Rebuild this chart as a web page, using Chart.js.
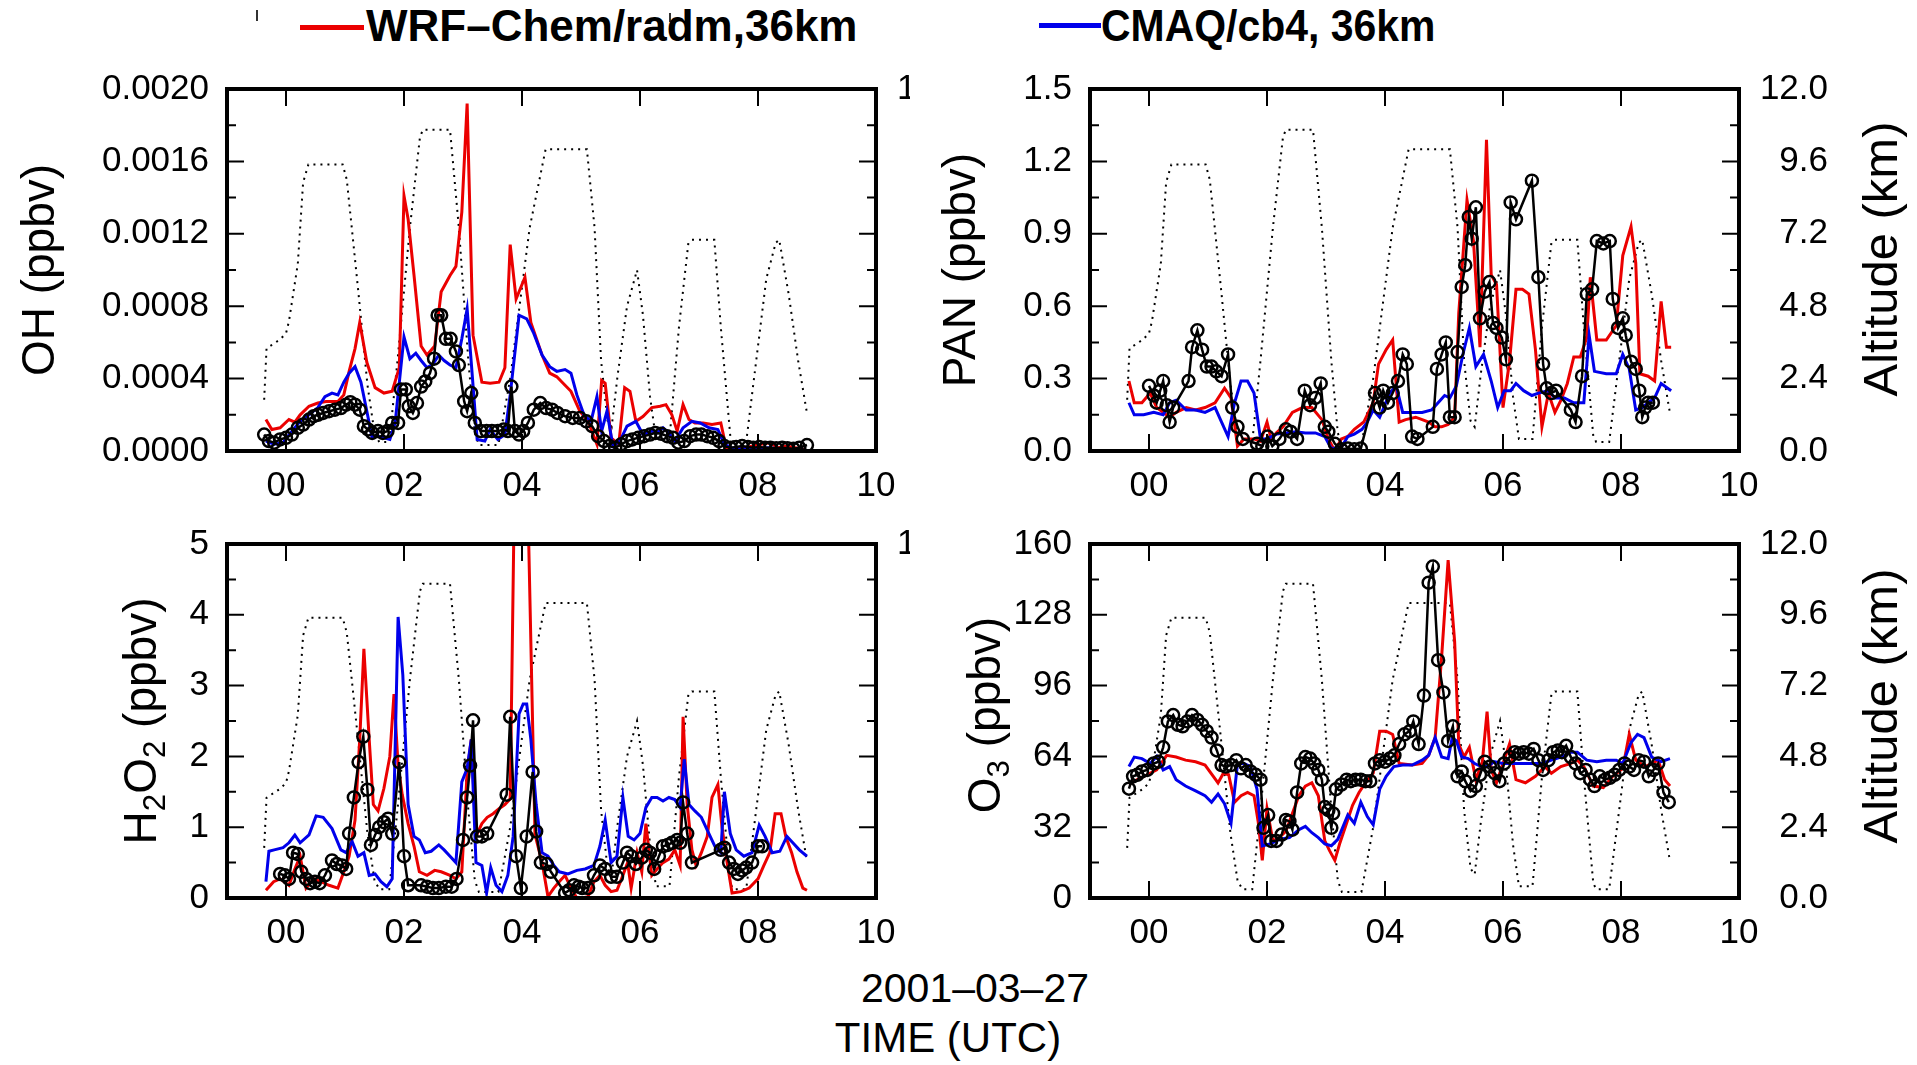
<!DOCTYPE html>
<html>
<head>
<meta charset="utf-8">
<title>WRF-Chem / CMAQ vs observations</title>
<script src="https://cdn.jsdelivr.net/npm/chart.js@4.4.0/dist/chart.umd.min.js"></script>
<style>
  html, body { margin: 0; padding: 0; background: #fff; }
  body { width: 1917px; height: 1065px; position: relative; overflow: hidden; font-family: "Liberation Sans", Arial, sans-serif; }
  canvas { position: absolute; }
  .cover { background: #fff; }
  .txt { position: absolute; white-space: nowrap; color: #000; line-height: 1; transform-origin: left top; }
  .key { position: absolute; height: 5px; }
  .mark { position: absolute; width: 2px; background: #333; }
</style>
</head>
<body>
<!-- petits traits parasites du haut de la figure -->
<div class="mark" style="left:256px;top:10px;height:11px"></div>
<div class="mark" style="left:669px;top:13px;height:9px"></div>
<div class="mark" style="left:773px;top:13px;height:9px"></div>

<!-- legende -->
<div class="key" style="left:300px;top:25px;width:64px;background:rgb(235,0,0)"></div>
<div class="txt" style="left:366px;top:4px;font-size:44px;font-weight:bold">WRF–Chem/radm,36km</div>
<div class="key" style="left:1039px;top:23px;width:62px;background:rgb(0,0,235)"></div>
<div class="txt" style="left:1101px;top:4px;font-size:44px;font-weight:bold;transform:scaleX(0.93)">CMAQ/cb4, 36km</div>

<canvas id="cOH" width="970" height="455" style="left:0;top:50px"></canvas>
<canvas id="cPAN" class="cover" width="1007" height="455" style="left:910px;top:50px"></canvas>
<canvas id="cH2O2" width="970" height="455" style="left:0;top:505px"></canvas>
<canvas id="cO3" class="cover" width="1007" height="455" style="left:910px;top:505px"></canvas>

<div class="txt" style="left:675px;top:968px;width:600px;text-align:center;font-size:41px">2001–03–27</div>
<div class="txt" style="left:648px;top:1017px;width:600px;text-align:center;font-size:42px">TIME (UTC)</div>

<script>
// Axes communs
const hourTicks = [0, 2, 4, 6, 8, 10];
const hourLabels = ['00', '02', '04', '06', '08', '10'];
const altTicks = [0, 2.4, 4.8, 7.2, 9.6, 12];
const altLabels = ['0.0', '2.4', '4.8', '7.2', '9.6', '12.0'];

const ohTicks = [0, 0.0004, 0.0008, 0.0012, 0.0016, 0.0020];
const ohLabels = ['0.0000', '0.0004', '0.0008', '0.0012', '0.0016', '0.0020'];
const panTicks = [0, 0.3, 0.6, 0.9, 1.2, 1.5];
const panLabels = ['0.0', '0.3', '0.6', '0.9', '1.2', '1.5'];
const h2o2Ticks = [0, 1, 2, 3, 4, 5];
const h2o2Labels = ['0', '1', '2', '3', '4', '5'];
const o3Ticks = [0, 32, 64, 96, 128, 160];
const o3Labels = ['0', '32', '64', '96', '128', '160'];

// Altitude de l'avion (km), [heure UTC, km]
const altData = [[-0.37,1.7],[-0.33,3.4],[-0.1,3.7],[0,3.9],[0.05,4.3],[0.2,6.2],[0.29,8.9],[0.38,9.5],[0.96,9.5],[1.03,9.0],[1.12,7.3],[1.23,5.2],[1.38,2.2],[1.5,0.6],[1.58,0.3],[1.75,0.3],[1.89,3.0],[2.1,7.4],[2.27,10.4],[2.32,10.65],[2.78,10.65],[2.93,7.4],[3.09,3.0],[3.2,0.6],[3.27,0.2],[3.6,0.2],[3.8,2.4],[4.13,7.4],[4.4,10.0],[5.1,10.0],[5.23,7.4],[5.34,3.0],[5.45,1.0],[5.52,0.8],[5.62,2.5],[5.78,4.8],[5.95,6.0],[6.05,4.5],[6.17,1.8],[6.27,0.4],[6.5,0.4],[6.66,4.1],[6.82,6.9],[6.88,7.0],[7.26,7.0],[7.37,4.1],[7.53,0.5],[7.58,0.3],[7.8,0.3],[7.97,3.0],[8.14,5.7],[8.3,6.9],[8.36,7.0],[8.52,5.2],[8.68,3.0],[8.83,1.25]];

// OH (ppbv)
const ohObs = [[-0.37,0.000091],[-0.29,0.000055],[-0.2,0.000046],[-0.1,0.000064],[0,0.000073],[0.1,0.000091],[0.2,0.000128],[0.29,0.000146],[0.39,0.000174],[0.47,0.000192],[0.54,0.0002],[0.63,0.00021],[0.73,0.00022],[0.83,0.000228],[0.93,0.000237],[1.02,0.000256],[1.09,0.00027],[1.17,0.000256],[1.25,0.000228],[1.32,0.000137],[1.39,0.000119],[1.46,0.0001],[1.56,0.00011],[1.64,0.0001],[1.72,0.00011],[1.8,0.000155],[1.9,0.000155],[1.95,0.00034],[2.03,0.00034],[2.08,0.000247],[2.15,0.00021],[2.22,0.000265],[2.29,0.000356],[2.36,0.000384],[2.44,0.00043],[2.51,0.00051],[2.57,0.00075],[2.63,0.00075],[2.71,0.00062],[2.79,0.00062],[2.88,0.00055],[2.93,0.000475],[3.02,0.000274],[3.07,0.00022],[3.14,0.00032],[3.2,0.000155],[3.3,0.00011],[3.4,0.00011],[3.49,0.00011],[3.59,0.00011],[3.69,0.000119],[3.76,0.00011],[3.82,0.000356],[3.88,0.00011],[3.95,0.000091],[4.02,0.00011],[4.1,0.000155],[4.2,0.000228],[4.31,0.000265],[4.41,0.000237],[4.51,0.000228],[4.6,0.00021],[4.73,0.000192],[4.86,0.000183],[4.98,0.000183],[5.09,0.000164],[5.19,0.000137],[5.29,0.000082],[5.39,0.000055],[5.48,0.000027],[5.58,0.000018],[5.68,0.000037],[5.78,0.000055],[5.87,0.000064],[5.97,0.000073],[6.07,0.000082],[6.17,0.000091],[6.26,0.0001],[6.36,0.000095],[6.46,0.000082],[6.56,0.000073],[6.65,0.000046],[6.75,0.000055],[6.85,0.000082],[6.95,0.000091],[7.04,0.000091],[7.14,0.000082],[7.24,0.000073],[7.34,0.000055],[7.43,0.000027],[7.53,0.000018],[7.63,0.000022],[7.73,0.000027],[7.83,0.000022],[7.92,0.000018],[8.02,0.000022],[8.12,0.000018],[8.21,0.000018],[8.31,0.000015],[8.41,0.000018],[8.5,0.000015],[8.6,0.000013],[8.7,0.000018],[8.83,0.000033]];
const ohWrf = [[-0.34,0.000174],[-0.24,0.000119],[-0.1,0.000128],[0.05,0.000174],[0.15,0.00016],[0.24,0.0002],[0.39,0.000247],[0.54,0.000265],[0.68,0.000274],[0.88,0.000274],[0.98,0.00031],[1.07,0.00044],[1.17,0.000566],[1.25,0.00071],[1.37,0.00049],[1.51,0.00035],[1.66,0.00032],[1.8,0.00033],[1.92,0.00046],[2.0,0.00141],[2.07,0.00128],[2.17,0.00097],[2.29,0.00058],[2.39,0.00053],[2.52,0.00058],[2.63,0.00088],[2.78,0.00097],[2.88,0.00102],[2.98,0.00132],[3.07,0.00192],[3.17,0.00064],[3.32,0.00038],[3.46,0.000374],[3.61,0.00038],[3.71,0.00046],[3.8,0.00114],[3.9,0.00084],[4.05,0.00096],[4.15,0.00071],[4.34,0.00053],[4.47,0.00043],[4.59,0.00041],[4.68,0.00038],[4.83,0.00033],[4.98,0.00022],[5.12,0.000164],[5.27,0.000037],[5.35,0.00039],[5.41,0.000374],[5.51,0.000073],[5.64,0.000037],[5.74,0.00035],[5.83,0.00033],[5.93,0.000164],[6.05,0.00019],[6.2,0.00024],[6.34,0.000247],[6.44,0.000256],[6.54,0.0002],[6.63,0.00011],[6.73,0.000256],[6.83,0.000174],[6.93,0.000155],[7.07,0.000155],[7.22,0.000146],[7.37,0.000155],[7.46,0.000018],[7.61,0.000009],[7.76,0.000018],[7.9,0.000027],[8.05,0.000037],[8.2,0.000046],[8.34,0.000018],[8.49,0.000027],[8.63,0.000018],[8.78,0.000009]];
const ohCmaq = [[-0.34,0.000055],[-0.2,0.000037],[-0.05,0.000046],[0.1,0.00011],[0.24,0.000164],[0.39,0.0002],[0.54,0.00024],[0.66,0.0003],[0.78,0.00032],[0.88,0.00031],[0.98,0.00038],[1.07,0.00043],[1.17,0.000466],[1.27,0.00038],[1.37,0.00022],[1.46,0.000073],[1.56,0.000082],[1.66,0.000073],[1.76,0.000064],[1.85,0.000155],[2.0,0.00063],[2.1,0.00051],[2.2,0.00054],[2.29,0.0005],[2.39,0.00046],[2.49,0.00048],[2.59,0.00053],[2.68,0.0005],[2.78,0.000475],[2.88,0.00046],[2.98,0.00062],[3.07,0.000785],[3.14,0.00049],[3.24,0.000064],[3.37,0.000055],[3.46,0.000119],[3.59,0.000064],[3.71,0.000091],[3.8,0.00031],[3.95,0.00075],[4.08,0.00073],[4.2,0.00065],[4.34,0.00053],[4.47,0.000466],[4.59,0.00044],[4.73,0.00045],[4.83,0.00043],[4.93,0.00031],[5.05,0.0002],[5.17,0.000164],[5.27,0.0003],[5.35,0.00011],[5.44,0.00022],[5.54,0.000027],[5.66,0.000055],[5.78,0.000137],[5.93,0.000164],[6.05,0.000091],[6.2,0.00011],[6.29,0.0001],[6.39,0.000128],[6.49,0.0001],[6.59,0.000055],[6.73,0.000128],[6.88,0.000164],[7.02,0.000155],[7.17,0.000128],[7.32,0.000119],[7.43,0.000037],[7.61,0.000009],[7.8,0.000013],[7.95,0.000015],[8.2,0.000018],[8.39,0.000009],[8.59,0.000005],[8.78,0.000004]];

// PAN (ppbv)
const panObs = [[0,0.27],[0.08,0.23],[0.13,0.2],[0.19,0.25],[0.24,0.29],[0.3,0.19],[0.35,0.12],[0.41,0.18],[0.67,0.29],[0.73,0.43],[0.82,0.5],[0.9,0.42],[0.98,0.35],[1.06,0.35],[1.14,0.33],[1.23,0.31],[1.34,0.4],[1.41,0.18],[1.5,0.1],[1.59,0.05],[1.83,0.03],[1.92,0.02],[2.01,0.06],[2.09,0.02],[2.21,0.05],[2.32,0.09],[2.4,0.08],[2.51,0.05],[2.64,0.25],[2.73,0.19],[2.82,0.22],[2.91,0.28],[2.98,0.1],[3.04,0.08],[3.15,0.03],[3.26,0.007],[3.37,0.01],[3.48,0.007],[3.59,0.01],[3.83,0.24],[3.91,0.18],[3.97,0.25],[4.05,0.2],[4.13,0.24],[4.22,0.29],[4.3,0.4],[4.37,0.36],[4.46,0.06],[4.55,0.05],[4.81,0.1],[4.88,0.34],[4.96,0.4],[5.03,0.45],[5.1,0.14],[5.18,0.14],[5.23,0.41],[5.3,0.68],[5.36,0.77],[5.42,0.97],[5.47,0.88],[5.54,1.01],[5.61,0.55],[5.69,0.66],[5.77,0.7],[5.83,0.53],[5.89,0.51],[5.98,0.47],[6.05,0.38],[6.13,1.03],[6.22,0.96],[6.49,1.12],[6.6,0.72],[6.68,0.36],[6.74,0.26],[6.82,0.24],[6.9,0.25],[7.15,0.17],[7.23,0.12],[7.34,0.31],[7.42,0.65],[7.51,0.67],[7.59,0.87],[7.7,0.86],[7.81,0.87],[7.86,0.63],[7.95,0.51],[8.03,0.55],[8.08,0.48],[8.17,0.37],[8.25,0.34],[8.31,0.25],[8.36,0.14],[8.41,0.18],[8.46,0.2],[8.54,0.2]];
const panWrf = [[-0.34,0.29],[-0.25,0.2],[-0.12,0.2],[0.02,0.24],[0.13,0.18],[0.24,0.16],[0.35,0.14],[0.46,0.16],[0.63,0.18],[0.79,0.17],[0.95,0.18],[1.12,0.2],[1.28,0.26],[1.39,0.22],[1.5,0.02],[1.61,0.05],[1.78,0.05],[1.89,0.04],[2.0,0.12],[2.07,0.05],[2.16,0.075],[2.27,0.1],[2.43,0.16],[2.6,0.18],[2.76,0.18],[2.93,0.13],[3.04,0.05],[3.15,0],[3.26,0.05],[3.37,0.06],[3.48,0.09],[3.64,0.12],[3.8,0.2],[3.89,0.36],[4.02,0.42],[4.13,0.46],[4.24,0.12],[4.35,0.13],[4.52,0.14],[4.63,0.13],[4.74,0.12],[4.85,0.1],[4.96,0.1],[5.07,0.11],[5.18,0.14],[5.25,0.57],[5.39,1.04],[5.5,0.87],[5.61,0.43],[5.72,1.29],[5.8,0.73],[5.89,0.69],[6.0,0.18],[6.11,0.37],[6.22,0.67],[6.33,0.67],[6.44,0.65],[6.55,0.42],[6.66,0.1],[6.77,0.24],[6.88,0.16],[6.98,0.21],[7.09,0.28],[7.2,0.39],[7.31,0.39],[7.42,0.47],[7.48,0.72],[7.59,0.46],[7.75,0.46],[7.92,0.52],[8.03,0.81],[8.17,0.93],[8.25,0.78],[8.32,0.32],[8.46,0.31],[8.57,0.29],[8.68,0.62],[8.77,0.43],[8.85,0.43]];
const panCmaq = [[-0.34,0.2],[-0.25,0.15],[-0.09,0.15],[0.08,0.16],[0.24,0.15],[0.35,0.2],[0.46,0.21],[0.63,0.17],[0.79,0.17],[0.95,0.16],[1.12,0.18],[1.23,0.12],[1.34,0.06],[1.45,0.2],[1.56,0.29],[1.67,0.29],[1.78,0.24],[1.89,0.05],[2.0,0.05],[2.16,0.07],[2.32,0.075],[2.49,0.08],[2.65,0.075],[2.82,0.075],[2.98,0.06],[3.09,0.01],[3.26,0.015],[3.37,0.06],[3.48,0.07],[3.61,0.09],[3.7,0.12],[3.8,0.17],[3.91,0.14],[4.08,0.24],[4.19,0.27],[4.3,0.16],[4.46,0.16],[4.63,0.16],[4.79,0.17],[4.9,0.2],[5.01,0.23],[5.1,0.22],[5.21,0.27],[5.32,0.4],[5.43,0.51],[5.54,0.35],[5.67,0.4],[5.8,0.29],[5.91,0.18],[6.02,0.25],[6.13,0.25],[6.22,0.28],[6.35,0.25],[6.49,0.23],[6.6,0.24],[6.77,0.25],[6.88,0.22],[7.04,0.22],[7.2,0.2],[7.37,0.2],[7.46,0.48],[7.55,0.33],[7.75,0.32],[7.92,0.32],[8.03,0.4],[8.14,0.34],[8.25,0.17],[8.36,0.18],[8.46,0.2],[8.57,0.22],[8.68,0.28],[8.85,0.25]];

// H2O2 (ppbv)
const h2o2Obs = [[-0.1,0.34],[-0.02,0.32],[0.05,0.27],[0.12,0.64],[0.2,0.62],[0.26,0.37],[0.34,0.27],[0.41,0.21],[0.49,0.23],[0.57,0.21],[0.66,0.32],[0.78,0.53],[0.86,0.48],[0.95,0.46],[1.02,0.41],[1.07,0.91],[1.15,1.42],[1.23,1.92],[1.31,2.28],[1.38,1.53],[1.44,0.75],[1.51,0.89],[1.58,1.0],[1.66,1.07],[1.73,1.12],[1.8,0.91],[1.92,1.92],[2.0,0.59],[2.07,0.18],[2.29,0.18],[2.39,0.16],[2.49,0.14],[2.59,0.14],[2.71,0.16],[2.81,0.16],[2.89,0.27],[3.0,0.82],[3.07,1.42],[3.12,1.87],[3.17,2.51],[3.24,0.87],[3.32,0.87],[3.41,0.91],[3.74,1.46],[3.8,2.56],[3.9,0.59],[3.98,0.14],[4.08,0.87],[4.18,1.78],[4.24,0.94],[4.32,0.5],[4.42,0.48],[4.49,0.37],[4.73,0.07],[4.8,0.11],[4.88,0.18],[4.96,0.16],[5.02,0.14],[5.12,0.14],[5.22,0.32],[5.32,0.46],[5.41,0.41],[5.51,0.3],[5.61,0.3],[5.71,0.5],[5.78,0.64],[5.85,0.59],[5.93,0.48],[6.03,0.57],[6.1,0.68],[6.17,0.64],[6.24,0.41],[6.32,0.59],[6.39,0.73],[6.47,0.75],[6.54,0.78],[6.63,0.82],[6.68,0.78],[6.73,1.35],[6.8,0.91],[6.88,0.5],[7.37,0.68],[7.43,0.71],[7.51,0.5],[7.59,0.41],[7.66,0.34],[7.73,0.39],[7.8,0.43],[7.9,0.5],[8.0,0.73],[8.07,0.73]];
const h2o2Wrf = [[-0.34,0.11],[-0.21,0.23],[-0.1,0.27],[0.05,0.18],[0.15,0.41],[0.24,0.59],[0.34,0.14],[0.47,0.27],[0.59,0.23],[0.73,0.18],[0.88,0.14],[0.98,0.37],[1.07,0.59],[1.17,1.1],[1.25,2.24],[1.32,3.52],[1.41,2.24],[1.48,1.32],[1.56,1.23],[1.66,1.55],[1.76,2.0],[1.83,2.88],[1.9,1.87],[1.97,1.46],[2.07,1.05],[2.17,0.73],[2.26,0.37],[2.39,0.32],[2.52,0.39],[2.63,0.37],[2.78,0.32],[2.88,0.27],[2.98,0.37],[3.07,1.78],[3.14,2.24],[3.22,0.87],[3.32,1.05],[3.41,1.14],[3.51,1.19],[3.61,1.26],[3.71,1.32],[3.8,1.4],[3.9,7.5],[4.05,7.5],[4.22,0.9],[4.34,0.5],[4.44,0.02],[4.54,0.14],[4.63,0.23],[4.73,0.32],[4.83,0.14],[4.93,0],[5.02,0],[5.12,0.02],[5.22,0.23],[5.32,0.32],[5.41,0.18],[5.51,0.09],[5.61,0.11],[5.71,0.32],[5.79,0.5],[5.85,0.14],[5.95,0.64],[6.03,0.37],[6.1,1.05],[6.2,0.32],[6.29,0.41],[6.39,0.5],[6.49,0.55],[6.59,0.68],[6.68,0.46],[6.73,2.56],[6.8,1.32],[6.88,0.68],[6.95,0.46],[7.04,0.64],[7.14,0.87],[7.22,1.42],[7.32,1.6],[7.39,1.0],[7.46,0.59],[7.56,0.07],[7.71,0.09],[7.85,0.14],[8.0,0.27],[8.1,0.46],[8.2,0.64],[8.29,1.19],[8.39,1.19],[8.47,0.87],[8.57,0.64],[8.66,0.37],[8.76,0.14],[8.83,0.11]];
const h2o2Cmaq = [[-0.34,0.23],[-0.29,0.66],[-0.2,0.68],[-0.05,0.71],[0.05,0.78],[0.15,0.89],[0.24,0.78],[0.39,0.89],[0.51,1.16],[0.63,1.14],[0.78,0.98],[0.93,0.68],[1.02,0.64],[1.12,0.8],[1.22,0.59],[1.32,0.64],[1.41,0.32],[1.51,0.34],[1.61,0.23],[1.71,0.16],[1.8,0.27],[1.9,3.97],[1.98,3.15],[2.07,1.32],[2.17,0.87],[2.26,0.82],[2.36,0.64],[2.46,0.66],[2.59,0.75],[2.68,0.68],[2.78,0.59],[2.88,0.5],[2.98,1.64],[3.07,1.83],[3.14,2.24],[3.22,0.5],[3.32,0.46],[3.4,0.07],[3.47,0.43],[3.56,0.18],[3.66,0.09],[3.76,0.32],[3.85,0.87],[3.95,2.6],[4.02,2.74],[4.08,2.74],[4.15,2.24],[4.24,1.32],[4.34,0.64],[4.44,0.59],[4.54,0.46],[4.63,0.37],[4.78,0.34],[4.93,0.39],[5.07,0.41],[5.22,0.46],[5.32,0.73],[5.41,1.1],[5.51,0.5],[5.61,0.59],[5.71,1.42],[5.8,0.87],[5.9,0.82],[6.0,0.91],[6.1,1.28],[6.2,1.42],[6.29,1.42],[6.39,1.37],[6.49,1.42],[6.59,1.39],[6.68,1.28],[6.75,1.96],[6.83,1.32],[6.93,1.23],[7.04,1.14],[7.14,0.96],[7.27,0.73],[7.37,0.64],[7.43,1.5],[7.53,0.91],[7.63,0.68],[7.76,0.59],[7.9,0.64],[8.02,1.03],[8.12,0.87],[8.24,0.64],[8.37,0.66],[8.49,0.87],[8.59,0.78],[8.7,0.68],[8.83,0.59]];

// O3 (ppbv)
const o3Obs = [[-0.34,49.4],[-0.27,55],[-0.2,55.7],[-0.12,57.2],[-0.03,57.9],[0.08,60.8],[0.16,61.6],[0.24,68.1],[0.32,79.8],[0.41,82.7],[0.49,78.3],[0.57,77.6],[0.65,79.8],[0.73,82.7],[0.82,80.5],[0.9,78.3],[0.98,75.4],[1.06,72.5],[1.15,66.7],[1.23,60.1],[1.3,59.4],[1.39,60.1],[1.48,62.3],[1.56,58.6],[1.64,60.1],[1.72,57.2],[1.81,55.7],[1.89,53.5],[1.94,31.7],[2.02,37.5],[2.07,25.8],[2.16,25.8],[2.25,28.7],[2.32,35.3],[2.38,34.6],[2.43,30.9],[2.51,47.7],[2.58,60.8],[2.65,63.7],[2.73,63],[2.8,60.8],[2.87,57.9],[2.93,53.5],[2.98,41.1],[3.04,39.7],[3.09,31.7],[3.12,38.2],[3.17,49.2],[3.26,51.3],[3.35,53.5],[3.42,52.8],[3.5,53.5],[3.59,53.5],[3.67,52.8],[3.75,52.8],[3.83,60.8],[3.91,62.3],[4.0,61.6],[4.08,63],[4.16,64.5],[4.24,69.6],[4.33,74],[4.42,75.4],[4.48,79.8],[4.57,69.6],[4.66,91.5],[4.74,142.5],[4.81,149.8],[4.9,107.5],[4.99,92.9],[5.07,71],[5.15,77.6],[5.23,55],[5.3,57.2],[5.36,52.8],[5.45,48.4],[5.54,50.6],[5.61,55.7],[5.69,61.6],[5.78,59.4],[5.86,56.4],[5.94,52.8],[6.02,60.8],[6.11,63.7],[6.2,65.9],[6.27,65.2],[6.35,65.9],[6.44,65.2],[6.52,67.4],[6.6,62.3],[6.68,57.9],[6.77,62.3],[6.85,65.9],[6.93,66.7],[7.0,65.9],[7.07,68.8],[7.15,63.7],[7.23,60.8],[7.31,56.4],[7.4,57.9],[7.48,53.5],[7.55,50.6],[7.64,55],[7.73,53.5],[7.81,54.3],[7.89,55.7],[7.97,57.9],[8.06,60.8],[8.14,59.4],[8.22,57.9],[8.3,62.3],[8.39,61.6],[8.47,55],[8.55,57.9],[8.63,60.8],[8.72,47.7],[8.81,43.3]];
const o3Wrf = [[-0.34,51.3],[-0.2,53.5],[-0.03,55.7],[0.13,57.9],[0.3,64.5],[0.46,63.7],[0.62,62.3],[0.79,61.6],[0.95,60.1],[1.09,55],[1.17,52],[1.26,56.4],[1.35,55.7],[1.45,43.3],[1.56,46.2],[1.67,47.7],[1.78,46.2],[1.85,34.6],[1.92,17],[2.0,40.4],[2.1,25.8],[2.21,27.3],[2.32,30.2],[2.43,38.2],[2.54,46.2],[2.65,50.6],[2.76,52.1],[2.87,46.2],[2.98,25.8],[3.06,21.4],[3.15,17],[3.23,24.4],[3.34,33.1],[3.45,41.9],[3.56,47.7],[3.67,52.1],[3.8,56.4],[3.91,75.4],[4.02,75.4],[4.13,73.9],[4.24,60.8],[4.46,60.1],[4.63,60.8],[4.74,64.5],[4.85,72.5],[4.96,109],[5.07,152.7],[5.18,116],[5.25,69.6],[5.34,63.7],[5.43,68.1],[5.54,53.5],[5.65,61.6],[5.73,84.2],[5.8,57.9],[5.89,52.1],[6.0,60.8],[6.11,69.6],[6.22,53.5],[6.38,52.1],[6.55,55],[6.71,59.4],[6.82,56.4],[6.98,59.4],[7.15,60.8],[7.26,62.3],[7.37,59.4],[7.53,50.6],[7.7,49.9],[7.86,55],[8.03,58.6],[8.14,74],[8.25,62.3],[8.41,59.4],[8.52,60.8],[8.63,62.3],[8.74,53.5],[8.83,50.6]];
const o3Cmaq = [[-0.34,59.4],[-0.25,63.7],[-0.12,63],[0.02,60.8],[0.13,64],[0.24,57.9],[0.35,59.4],[0.46,53.5],[0.62,50.6],[0.79,48.4],[0.95,46.2],[1.06,43.3],[1.17,47],[1.28,42.6],[1.39,33.8],[1.5,60.8],[1.61,60.8],[1.72,59.4],[1.83,49.2],[1.92,23.6],[2.05,24.4],[2.21,26.5],[2.38,27.3],[2.54,30.9],[2.65,32.4],[2.76,29.5],[2.87,27.3],[2.98,24.4],[3.09,23.6],[3.2,26.5],[3.37,37.5],[3.48,33.8],[3.59,43.3],[3.7,36.8],[3.8,33.1],[3.91,49.2],[4.02,55],[4.15,59.4],[4.3,60.1],[4.46,60.1],[4.63,62.3],[4.74,64.5],[4.85,72.5],[4.96,63.7],[5.07,63],[5.14,72.5],[5.21,71],[5.3,63.7],[5.41,63],[5.52,60.8],[5.63,59.4],[5.74,59.4],[5.85,61.6],[6.0,60.8],[6.17,60.8],[6.33,60.8],[6.49,60.8],[6.66,60.8],[6.82,62.3],[6.98,63.7],[7.15,65.9],[7.26,65.9],[7.42,62.3],[7.59,61.6],[7.75,62.3],[7.92,62.3],[8.03,60.8],[8.17,70.3],[8.28,74],[8.39,72.5],[8.52,63.7],[8.68,61.6],[8.83,63]];

const RED = 'rgb(235,0,0)';
const BLUE = 'rgb(0,0,235)';
const FONT = '"Liberation Sans", Arial, sans-serif';

// Titres d'axes verticaux (x = ligne de base, dans le canvas)
const TITLES = {
  cOH:   { left: { x: 54,  dy: 0,   size: 46, parts: [['OH (ppbv)']] } },
  cPAN:  { left: { x: 65,  dy: 0,   size: 46, parts: [['PAN (ppbv)']] },
           right: { x: 987, dy: -11, size: 49, parts: [['Altitude (km)']] } },
  cH2O2: { left: { x: 156, dy: 0,   size: 46, parts: [['H'], ['2', 1], ['O'], ['2', 1], [' (ppbv)']] } },
  cO3:   { left: { x: 90,  dy: -6,  size: 46, parts: [['O'], ['3', 1], [' (ppbv)']] },
           right: { x: 987, dy: -15, size: 49, parts: [['Altitude (km)']] } }
};

function toXY(arr) {
  return arr.map(p => ({ x: p[0], y: p[1] }));
}

function drawVertical(ctx, bx, cy, parts, size) {
  ctx.save();
  ctx.translate(bx, cy);
  ctx.rotate(-Math.PI / 2);
  ctx.fillStyle = '#000';
  ctx.textBaseline = 'alphabetic';
  let total = 0;
  parts.forEach(p => {
    ctx.font = (p[1] ? size * 0.68 : size) + 'px ' + FONT;
    total += ctx.measureText(p[0]).width;
  });
  let x = -total / 2;
  parts.forEach(p => {
    const fs = p[1] ? size * 0.68 : size;
    ctx.font = fs + 'px ' + FONT;
    ctx.fillText(p[0], x, p[1] ? size * 0.2 : 0);
    x += ctx.measureText(p[0]).width;
  });
  ctx.restore();
}

// Cadre, graduations internes et titres
const framePlugin = {
  id: 'frame',
  afterDatasetsDraw(chart) {
    const { ctx, chartArea: a, scales } = chart;
    ctx.save();
    ctx.strokeStyle = '#000';
    ctx.lineWidth = 2;
    ctx.beginPath();
    // graduations verticales (gauche et droite)
    const sideTicks = (scale, x0, dir) => {
      const vals = scale.ticks.map(t => t.value);
      vals.forEach((v, i) => {
        const py = scale.getPixelForValue(v);
        ctx.moveTo(x0, py); ctx.lineTo(x0 + dir * 17, py);
        if (i < vals.length - 1) {
          const pm = scale.getPixelForValue((v + vals[i + 1]) / 2);
          ctx.moveTo(x0, pm); ctx.lineTo(x0 + dir * 9, pm);
        }
      });
    };
    sideTicks(scales.y, a.left, 1);
    sideTicks(scales.y2, a.right, -1);
    // graduations horaires (haut et bas)
    scales.x.ticks.forEach(t => {
      if (t.value <= scales.x.min || t.value >= scales.x.max) return;
      const px = scales.x.getPixelForValue(t.value);
      ctx.moveTo(px, a.bottom); ctx.lineTo(px, a.bottom - 17);
      ctx.moveTo(px, a.top); ctx.lineTo(px, a.top + 17);
    });
    ctx.stroke();
    ctx.lineWidth = 4;
    ctx.strokeRect(a.left, a.top, a.right - a.left, a.bottom - a.top);
    ctx.restore();

    const t = TITLES[chart.canvas.id];
    const cy = (a.top + a.bottom) / 2;
    if (t.left) drawVertical(ctx, t.left.x, cy + t.left.dy, t.left.parts, t.left.size);
    if (t.right) drawVertical(ctx, t.right.x, cy + t.right.dy, t.right.parts, t.right.size);
  }
};

function makeChart(id, c) {
  const tickFont = { family: FONT, size: 35 };
  return new Chart(document.getElementById(id), {
    type: 'line',
    data: {
      datasets: [
        { label: 'Observation', data: toXY(c.obs), yAxisID: 'y', borderColor: '#000', borderWidth: 2.5,
          pointRadius: 6, pointBorderWidth: 2.5, pointBorderColor: '#000', pointBackgroundColor: 'rgba(0,0,0,0)' },
        { label: 'CMAQ/cb4, 36km', data: toXY(c.cmaq), yAxisID: 'y', borderColor: BLUE, borderWidth: 3, pointRadius: 0 },
        { label: 'WRF–Chem/radm,36km', data: toXY(c.wrf), yAxisID: 'y', borderColor: RED, borderWidth: 3, pointRadius: 0 },
        { label: 'Altitude', data: toXY(altData), yAxisID: 'y2', borderColor: '#000', borderWidth: 2,
          borderDash: [2, 5], pointRadius: 0 }
      ]
    },
    options: {
      responsive: false,
      animation: false,
      devicePixelRatio: 1,
      layout: { padding: { left: 0, right: c.padRight, top: c.padTop, bottom: 0 } },
      plugins: { legend: { display: false }, tooltip: { enabled: false } },
      scales: {
        x: {
          type: 'linear', min: -1, max: 10,
          afterBuildTicks: s => { s.ticks = hourTicks.map(v => ({ value: v })); },
          afterFit: s => { s.height = c.xHeight; },
          ticks: { callback: (v, i) => hourLabels[i], font: tickFont, color: '#000', padding: 14, maxRotation: 0, autoSkip: false },
          grid: { display: false, drawTicks: false },
          border: { display: false }
        },
        y: {
          position: 'left', min: c.yTicks[0], max: c.yTicks[c.yTicks.length - 1],
          afterBuildTicks: s => { s.ticks = c.yTicks.map(v => ({ value: v })); },
          afterFit: s => { s.width = c.yWidth; },
          ticks: { callback: (v, i) => c.yLabels[i], font: tickFont, color: '#000', padding: 18, autoSkip: false },
          grid: { display: false, drawTicks: false },
          border: { display: false }
        },
        y2: {
          position: 'right', min: 0, max: 12,
          afterBuildTicks: s => { s.ticks = altTicks.map(v => ({ value: v })); },
          afterFit: s => { s.width = 89; },
          ticks: { callback: (v, i) => altLabels[i], font: tickFont, color: '#000', crossAlign: 'far', autoSkip: false },
          grid: { display: false, drawTicks: false },
          border: { display: false }
        }
      }
    },
    plugins: [framePlugin]
  });
}

makeChart('cOH',   { obs: ohObs,   wrf: ohWrf,   cmaq: ohCmaq,   yTicks: ohTicks,   yLabels: ohLabels,   yWidth: 227, padRight: 5,  padTop: 36, xHeight: 54 });
makeChart('cPAN',  { obs: panObs,  wrf: panWrf,  cmaq: panCmaq,  yTicks: panTicks,  yLabels: panLabels,  yWidth: 180, padRight: 89, padTop: 36, xHeight: 54 });
makeChart('cH2O2', { obs: h2o2Obs, wrf: h2o2Wrf, cmaq: h2o2Cmaq, yTicks: h2o2Ticks, yLabels: h2o2Labels, yWidth: 227, padRight: 5,  padTop: 28, xHeight: 62 });
makeChart('cO3',   { obs: o3Obs,   wrf: o3Wrf,   cmaq: o3Cmaq,   yTicks: o3Ticks,   yLabels: o3Labels,   yWidth: 180, padRight: 89, padTop: 28, xHeight: 62 });
</script>
</body>
</html>
